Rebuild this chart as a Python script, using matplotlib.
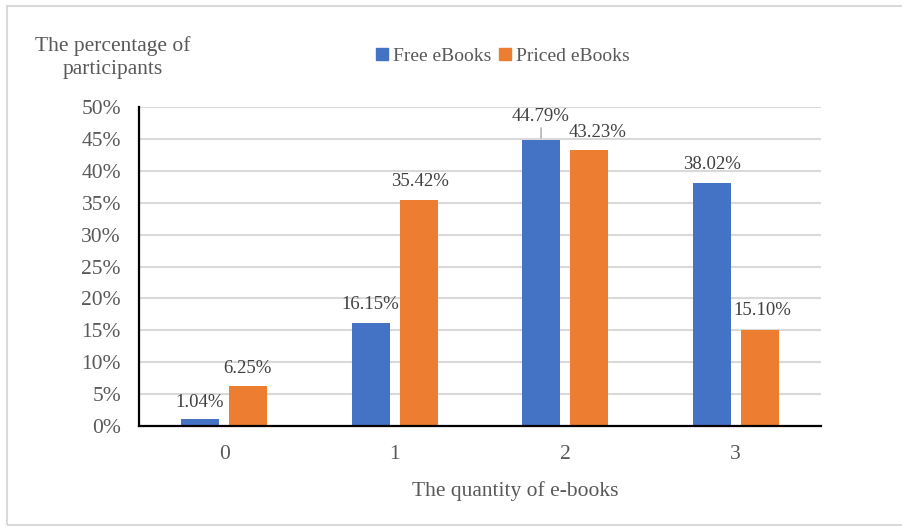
import matplotlib
matplotlib.use("Agg")
import matplotlib.pyplot as plt
from matplotlib.patches import Rectangle
from matplotlib.lines import Line2D
import numpy as np

categories = ["0", "1", "2", "3"]
free_ebooks = [1.04, 16.15, 44.79, 38.02]
priced_ebooks = [6.25, 35.42, 43.23, 15.10]
y_ticks = [0, 5, 10, 15, 20, 25, 30, 35, 40, 45, 50]
series_names = ["Free eBooks", "Priced eBooks"]

BLUE = "#4472C4"
ORANGE = "#ED7D31"
GRID = "#D9D9D9"
TEXT = "#595959"
LABEL = "#404040"

plt.rcParams["font.family"] = ["Liberation Serif", "DejaVu Serif"]

W, H = 903, 526
fig = plt.figure(figsize=(W / 100, H / 100), dpi=100)

# light frame around the whole chart
fig.patches.append(Rectangle((7 / W, 1 / H), 1.2, 1 - 6 / H - 1 / H,
                             transform=fig.transFigure, fill=False,
                             edgecolor=GRID, linewidth=1.5))

ax = fig.add_axes([139 / W, 1 - 426 / H, 682 / W, 319 / H])

x = np.arange(len(categories))
width = 0.223
off = 0.142
b1 = ax.bar(x - off, free_ebooks, width, color=BLUE, zorder=3)
b2 = ax.bar(x + off, priced_ebooks, width, color=ORANGE, zorder=3)

ax.set_xlim(-0.5, len(categories) - 0.5)
ax.set_ylim(0, 50)
ax.set_yticks(y_ticks)
ax.set_yticklabels([f"{t}%" for t in y_ticks])
ax.set_xticks(x)
ax.set_xticklabels(categories)
ax.tick_params(axis="both", length=0, labelsize=15.5, labelcolor=TEXT)
ax.tick_params(axis="y", pad=13)
ax.tick_params(axis="x", pad=14)

ax.yaxis.grid(True, color=GRID, linewidth=1.5, zorder=0)
ax.set_axisbelow(True)
for s in ["top", "right"]:
    ax.spines[s].set_visible(False)
for s in ["left", "bottom"]:
    ax.spines[s].set_color("black")
    ax.spines[s].set_linewidth(1.6)
    ax.spines[s].set_zorder(4)

# value labels above each bar (offsets in points)
free_offsets = [(0, 12.5), (0, 13), (0, 17), (0, 13.5)]
priced_offsets = [(-1, 12.5), (0.5, 13.5), (5.5, 13), (2, 14)]

for i, v in enumerate(free_ebooks):
    kw = {}
    if i == 2:
        kw["arrowprops"] = dict(arrowstyle="-", color="#A6A6A6", lw=1,
                                shrinkA=0, shrinkB=1.5)
    ax.annotate(f"{v:.2f}%", xy=(x[i] - off, v), xytext=free_offsets[i],
                textcoords="offset points", ha="center", va="center",
                fontsize=13.5, color=LABEL, **kw)
for i, v in enumerate(priced_ebooks):
    ax.annotate(f"{v:.2f}%", xy=(x[i] + off, v), xytext=priced_offsets[i],
                textcoords="offset points", ha="center", va="center",
                fontsize=13.5, color=LABEL)

# axis titles
fig.text(113 / W, 1 - 58 / H, "The percentage of\nparticipants", ha="center",
         va="center", fontsize=15.5, color=TEXT, linespacing=1.28)
fig.text(515 / W, 1 - 491 / H, "The quantity of e-books", ha="center",
         va="center", fontsize=15.5, color=TEXT)

# legend
handles = [Line2D([], [], marker="s", linestyle="none", markersize=8,
                  color=c) for c in (BLUE, ORANGE)]
leg = fig.legend(handles, series_names, loc="center",
                 bbox_to_anchor=(501 / W, 1 - 56 / H), ncol=2, frameon=False,
                 fontsize=14, handletextpad=0.05, columnspacing=0.2,
                 handlelength=1.0, borderaxespad=0)
for t in leg.get_texts():
    t.set_color(TEXT)

fig.savefig("out.png", dpi=100)
